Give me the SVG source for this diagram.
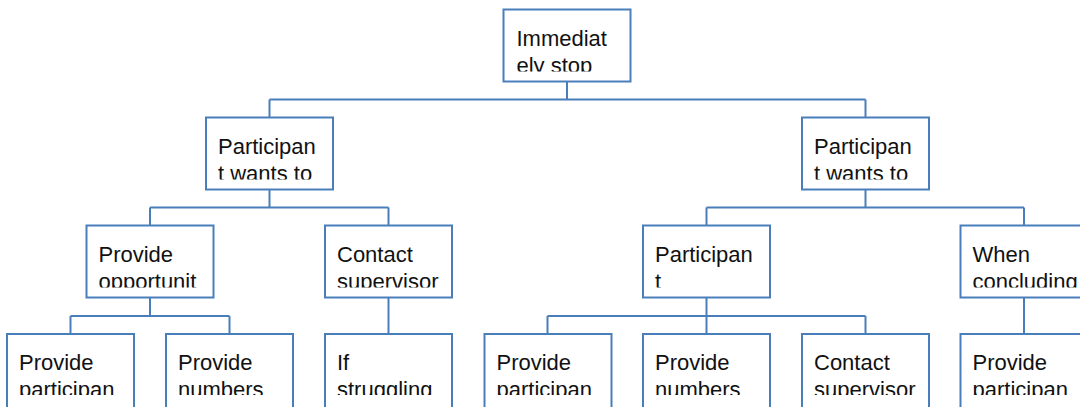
<svg xmlns="http://www.w3.org/2000/svg" width="1080" height="407" viewBox="0 0 1080 407">
<style>
.box{fill:#fff;stroke:#4a7ebb;stroke-width:2}
.conn{fill:none;stroke:#4a7ebb;stroke-width:2}
text{font-family:"Liberation Sans",Arial,sans-serif;font-size:22px;fill:#111}
</style>
<rect width="1080" height="407" fill="#fff"/>
<g id="connectors">
<path class="conn" d="M567 81.5V99.5M269.5 99.5H865.5M269.5 99.5V117.5M865.5 99.5V117.5"/>
<path class="conn" d="M269.5 189.5V207.5M150 207.5H388.5M150 207.5V225.5M388.5 207.5V225.5"/>
<path class="conn" d="M865.5 189.5V207.5M706.5 207.5H1024M706.5 207.5V225.5M1024 207.5V225.5"/>
<path class="conn" d="M150 297.5V316M70.5 316H229.5M70.5 316V334M229.5 316V334"/>
<path class="conn" d="M388.5 297.5V334"/>
<path class="conn" d="M706.5 297.5V316M547.5 316H865.5M547.5 316V334M706.5 316V334M865.5 316V334"/>
<path class="conn" d="M1024 297.5V334"/>
</g>
<g id="n_root"><rect class="box" x="503.5" y="9.5" width="127" height="72"/><svg x="503.5" y="9.5" width="127" height="62"><text x="13" y="36">Immediat</text><text x="13" y="63">ely stop</text></svg></g>
<g id="n_l2a"><rect class="box" x="206" y="117.5" width="127" height="72"/><svg x="206" y="117.5" width="127" height="62"><text x="12" y="36">Participan</text><text x="12" y="63">t wants to</text></svg></g>
<g id="n_l2b"><rect class="box" x="802" y="117.5" width="127" height="72"/><svg x="802" y="117.5" width="127" height="62"><text x="12" y="36">Participan</text><text x="12" y="63">t wants to</text></svg></g>
<g id="n_l3a"><rect class="box" x="86.5" y="225.5" width="127" height="72"/><svg x="86.5" y="225.5" width="127" height="62"><text x="12" y="36">Provide</text><text x="12" y="63">opportunit</text></svg></g>
<g id="n_l3b"><rect class="box" x="325" y="225.5" width="127" height="72"/><svg x="325" y="225.5" width="127" height="62"><text x="12" y="36">Contact</text><text x="12" y="63">supervisor</text></svg></g>
<g id="n_l3c"><rect class="box" x="643" y="225.5" width="127" height="72"/><svg x="643" y="225.5" width="127" height="62"><text x="12" y="36">Participan</text><text x="12" y="63">t</text></svg></g>
<g id="n_l3d"><rect class="box" x="960.5" y="225.5" width="127" height="72"/><svg x="960.5" y="225.5" width="127" height="62"><text x="12" y="36">When</text><text x="12" y="63">concluding</text></svg></g>
<g id="n_l4a"><rect class="box" x="7" y="334" width="127" height="76"/><svg x="7" y="334" width="127" height="61"><text x="12" y="36">Provide</text><text x="12" y="63">participan</text></svg></g>
<g id="n_l4b"><rect class="box" x="166" y="334" width="127" height="76"/><svg x="166" y="334" width="127" height="61"><text x="12" y="36">Provide</text><text x="12" y="63">numbers</text></svg></g>
<g id="n_l4c"><rect class="box" x="325" y="334" width="127" height="76"/><svg x="325" y="334" width="127" height="61"><text x="12" y="36">If</text><text x="12" y="63">struggling</text></svg></g>
<g id="n_l4d"><rect class="box" x="484.5" y="334" width="127" height="76"/><svg x="484.5" y="334" width="127" height="61"><text x="12" y="36">Provide</text><text x="12" y="63">participan</text></svg></g>
<g id="n_l4e"><rect class="box" x="643" y="334" width="127" height="76"/><svg x="643" y="334" width="127" height="61"><text x="12" y="36">Provide</text><text x="12" y="63">numbers</text></svg></g>
<g id="n_l4f"><rect class="box" x="802" y="334" width="127" height="76"/><svg x="802" y="334" width="127" height="61"><text x="12" y="36">Contact</text><text x="12" y="63">supervisor</text></svg></g>
<g id="n_l4g"><rect class="box" x="960.5" y="334" width="127" height="76"/><svg x="960.5" y="334" width="127" height="61"><text x="12" y="36">Provide</text><text x="12" y="63">participan</text></svg></g>
</svg>
